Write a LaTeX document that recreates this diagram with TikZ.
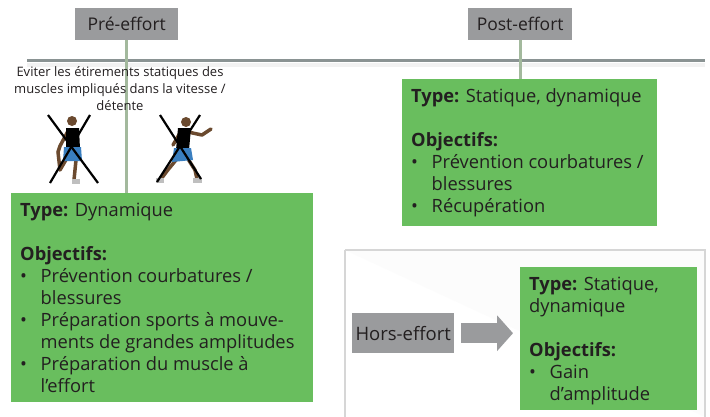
\documentclass[tikz,border=0pt]{standalone}
\usepackage{fontspec}
\setmainfont{Open Sans}
\usetikzlibrary{arrows.meta}
\definecolor{boxgreen}{HTML}{69BE5E}
\definecolor{labgrey}{HTML}{9A9B9D}
\definecolor{txt}{HTML}{231F20}
\definecolor{hline}{HTML}{8A9393}
\definecolor{vline}{HTML}{A3B99D}
\definecolor{skin}{HTML}{6B4A2F}
\definecolor{shorts}{HTML}{3A7FC0}
\definecolor{frameg}{HTML}{D6D6D6}
\tikzset{
  lab/.style={fill=labgrey, text=txt, font=\fontsize{17.5bp}{20bp}\selectfont, inner sep=0pt, minimum height=32bp, anchor=north west},
  gbox/.style={fill=boxgreen, inner sep=0pt, anchor=north west},
  gtext/.style={anchor=north west, inner sep=0pt, text=txt, align=left, font=\fontsize{18.3bp}{22bp}\selectfont},
  conn/.style={draw=vline, line width=3bp},
  xline/.style={draw=black, line width=2.2bp},
  limb/.style={draw=skin, line width=3.5bp, line cap=round, line join=round}
}
\newcommand{\bul}{\makebox[20.5bp][l]{\textbullet}}
\newcommand{\ind}{\hspace*{20.5bp}}
\begin{document}
\begin{tikzpicture}[x=1bp,y=-1bp]
\useasboundingbox[fill=white] (0,0) rectangle (710,416);
% horizontal timeline
\draw[draw=black!5, line width=4bp] (27,65) -- (705,65);
\coordinate (hl) at (27,60);
\coordinate (hr) at (705,60);
\draw[draw=hline, line width=3bp] (hl) -- (hr);

% labels
\node[lab, minimum width=103bp] (pre) at (75,8) {Pré-effort};
\node[lab, minimum width=104bp] (post) at (468,8) {Post-effort};

% green boxes
\node[gbox, minimum width=302bp, minimum height=209bp] (prebox) at (11,193) {};
\node[gbox, minimum width=255bp, minimum height=147bp] (postbox) at (402,79) {};

% connectors
\draw[conn] (pre.south) -- (pre.south |- prebox.north);
\draw[conn] (post.south) -- (post.south |- postbox.north);

% pre text
\node[gtext] (pretext) at (20,203) {%
\textbf{Type:} Dynamique\\[22bp]
\textbf{Objectifs:}\\
\bul Prévention courbatures /\\
\ind blessures\\
\bul Préparation sports à mouve-\\
\ind ments de grandes amplitudes\\
\bul Préparation du muscle à\\
\ind l’effort};

% post text
\node[gtext] (posttext) at (411,88) {%
\textbf{Type:} Statique, dynamique\\[22bp]
\textbf{Objectifs:}\\
\bul Prévention courbatures /\\
\ind blessures\\
\bul Récupération};

% hors-effort frame
\draw[draw=frameg, line width=1.2bp, fill=black!1] (345,250) -- (345,417) (345,250) -- (705,250) -- (705,417);
\node[lab, minimum width=102bp, minimum height=40bp, font=\fontsize{18.5bp}{20bp}\selectfont] (hors) at (352,313) {Hors-effort};
\node[gbox, minimum width=177bp, minimum height=143bp] (horsbox) at (520,267) {};
\node[gtext] (horstext) at (529,277) {%
\textbf{Type:} Statique,\\
dynamique\\[22bp]
\textbf{Objectifs:}\\
\bul Gain\\
\ind d’amplitude};
\draw[draw=labgrey, line width=20bp, shorten <=7bp, shorten >=7bp,
  -{Triangle[length=16bp,width=35bp]}] (hors.east) -- (horsbox.west |- hors.east);

% warning text
\node[anchor=north, inner sep=0pt, text=txt, align=center,
  font=\fontsize{13bp}{17bp}\selectfont] (warn) at (120,66)
  {Eviter les étirements statiques des\\muscles impliqués dans la vitesse /\\détente};

% figure 1
\fill[skin] (72,121) circle (5bp);
\draw[limb] (68,131) -- (60,146) -- (58,152);
\fill[black] (66,128) -- (79,128) -- (80,149) -- (66,149) -- cycle;
\draw[limb] (76,160) -- (75,170) -- (74,180);
\draw[limb] (67,158) -- (60,170) -- (58,152);
\fill[shorts] (64,147) -- (81,147) -- (82,161) -- (63,161) -- cycle;
\fill[black!25] (72,179) rectangle (80,184);
% figure 2
\fill[skin] (186,122) circle (5bp);
\draw[limb] (188,132) -- (202,135) -- (211,129);
\draw[limb] (180,133) -- (173,145);
\fill[black] (178,128) -- (191,128) -- (189,150) -- (176,150) -- cycle;
\draw[limb] (188,159) -- (195,170) -- (197,179);
\draw[limb] (176,160) -- (167,171) -- (161,179);
\fill[shorts] (174,148) -- (191,148) -- (193,160) -- (172,162) -- cycle;
\fill[black!25] (193,178) rectangle (202,183);
\fill[black!25] (156,178) rectangle (164,183);
% crosses
\draw[xline] (48,115) -- (98,183);
\draw[xline] (90,115) -- (50,183);
\draw[xline] (160,115) -- (201,179);
\draw[xline] (200,115) -- (157,182);
\end{tikzpicture}
\end{document}
